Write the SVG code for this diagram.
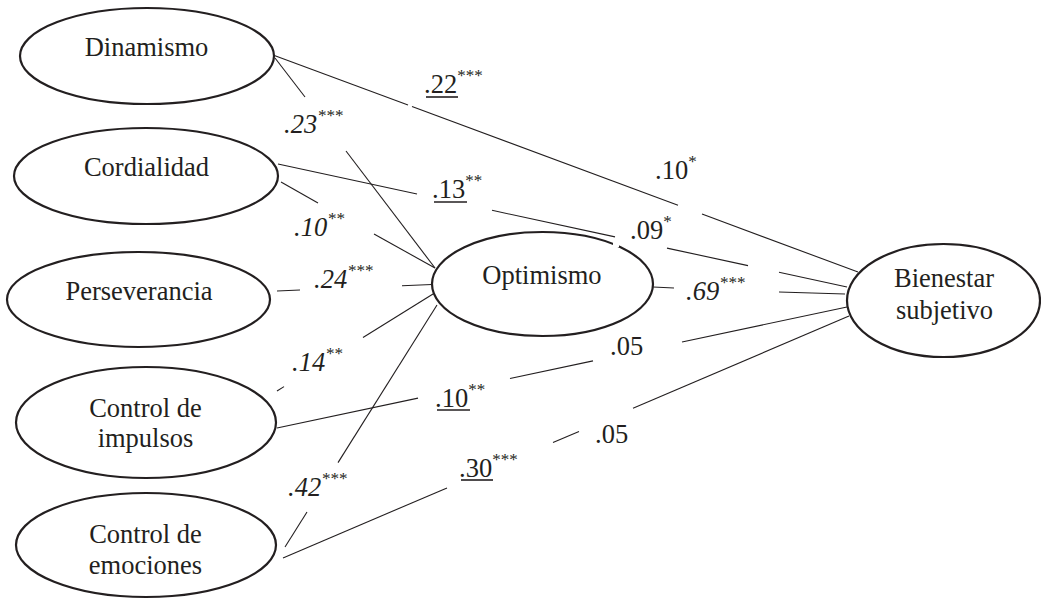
<svg xmlns="http://www.w3.org/2000/svg" width="1041" height="602" viewBox="0 0 1041 602" font-family="Liberation Serif">
<style>
text{font-family:"Liberation Serif","Times New Roman",serif}
.node ellipse{fill:#fff;stroke:#231f20;stroke-width:2.2}
.node text{font-size:26.5px;fill:#231f20;text-anchor:middle}
#connectors line{stroke:#231f20;stroke-width:1.1;fill:none}
.lab{font-size:26.5px;fill:#231f20}
.it{font-style:italic}
.sup{font-size:17px}
.ul{stroke:#231f20;stroke-width:1.6}
</style>
<rect width="1041" height="602" fill="#fff"/>
<g id="connectors">
<line x1="273" y1="55" x2="408" y2="105"/>
<line x1="412" y1="106.6" x2="678" y2="205.2"/>
<line x1="702" y1="214.1" x2="858" y2="272"/>
<line x1="275" y1="58" x2="305" y2="97"/>
<line x1="346" y1="151" x2="435" y2="268"/>
<line x1="278" y1="164" x2="417" y2="194"/>
<line x1="492" y1="210.3" x2="615" y2="236.9"/>
<line x1="667" y1="248.1" x2="748" y2="265.6"/>
<line x1="779" y1="272.3" x2="847" y2="287"/>
<line x1="281" y1="182" x2="318" y2="203"/>
<line x1="374" y1="234" x2="435" y2="268"/>
<line x1="277" y1="291" x2="300" y2="290"/>
<line x1="402" y1="285.8" x2="432" y2="284.5"/>
<line x1="277" y1="391" x2="284" y2="386.6"/>
<line x1="363" y1="337.5" x2="433" y2="294"/>
<line x1="285" y1="547" x2="307" y2="512"/>
<line x1="338" y1="462.6" x2="437" y2="305"/>
<line x1="277" y1="428" x2="418" y2="398.1"/>
<line x1="510" y1="378.5" x2="593" y2="360.9"/>
<line x1="682" y1="342" x2="847" y2="307"/>
<line x1="283" y1="558" x2="447" y2="487.9"/>
<line x1="553" y1="442.5" x2="579" y2="431.4"/>
<line x1="633" y1="408.3" x2="849" y2="316"/>
<line x1="653" y1="287" x2="674" y2="288"/>
<line x1="779" y1="292" x2="845" y2="294"/>
</g>
<g id="dinamismo" class="node"><ellipse cx="147" cy="56" rx="127" ry="48"/><text x="146.5" y="56">Dinamismo</text></g>
<g id="cordialidad" class="node"><ellipse cx="146" cy="176" rx="132" ry="48"/><text x="146.5" y="176">Cordialidad</text></g>
<g id="perseverancia" class="node"><ellipse cx="138.5" cy="299.5" rx="131.5" ry="47.5"/><text x="139" y="300">Perseverancia</text></g>
<g id="impulsos" class="node"><ellipse cx="146" cy="422.5" rx="130" ry="55.5"/><text x="145.5" y="417">Control de</text><text x="145.5" y="447">impulsos</text></g>
<g id="emociones" class="node"><ellipse cx="146" cy="545" rx="130" ry="52"/><text x="145.5" y="543">Control de</text><text x="145.5" y="574">emociones</text></g>
<g id="optimismo" class="node"><ellipse cx="542.5" cy="284" rx="110.5" ry="52"/><text x="542" y="284">Optimismo</text></g>
<rect x="613" y="239" width="6" height="8" fill="#fff"/>
<g id="bienestar" class="node"><ellipse cx="943.5" cy="300.5" rx="96.5" ry="56.5"/><text x="944" y="287">Bienestar</text><text x="944.5" y="319">subjetivo</text></g>
<g id="labels">
<text class="lab" x="424" y="93">.22<tspan class="sup" dy="-12">***</tspan></text>
<line class="ul" x1="426" y1="97" x2="458" y2="97"/>
<text class="lab it" x="284" y="133">.23<tspan class="sup" dy="-12">***</tspan></text>
<text class="lab" x="432" y="198">.13<tspan class="sup" dy="-12">**</tspan></text>
<line class="ul" x1="434" y1="202" x2="467" y2="202"/>
<text class="lab it" x="294" y="236">.10<tspan class="sup" dy="-12">**</tspan></text>
<text class="lab it" x="314" y="288">.24<tspan class="sup" dy="-12">***</tspan></text>
<text class="lab it" x="292" y="371">.14<tspan class="sup" dy="-12">**</tspan></text>
<text class="lab" x="435" y="407">.10<tspan class="sup" dy="-12">**</tspan></text>
<line class="ul" x1="437" y1="410" x2="470" y2="410"/>
<text class="lab it" x="288" y="496">.42<tspan class="sup" dy="-12">***</tspan></text>
<text class="lab" x="459" y="477">.30<tspan class="sup" dy="-12">***</tspan></text>
<line class="ul" x1="461" y1="480" x2="493" y2="480"/>
<text class="lab" x="655" y="179">.10<tspan class="sup" dy="-12">*</tspan></text>
<text class="lab" x="630" y="239">.09<tspan class="sup" dy="-12">*</tspan></text>
<text class="lab it" x="686" y="300">.69<tspan class="sup" dy="-12">***</tspan></text>
<text class="lab" x="610" y="355">.05</text>
<text class="lab" x="595" y="443">.05</text>
</g>
</svg>
